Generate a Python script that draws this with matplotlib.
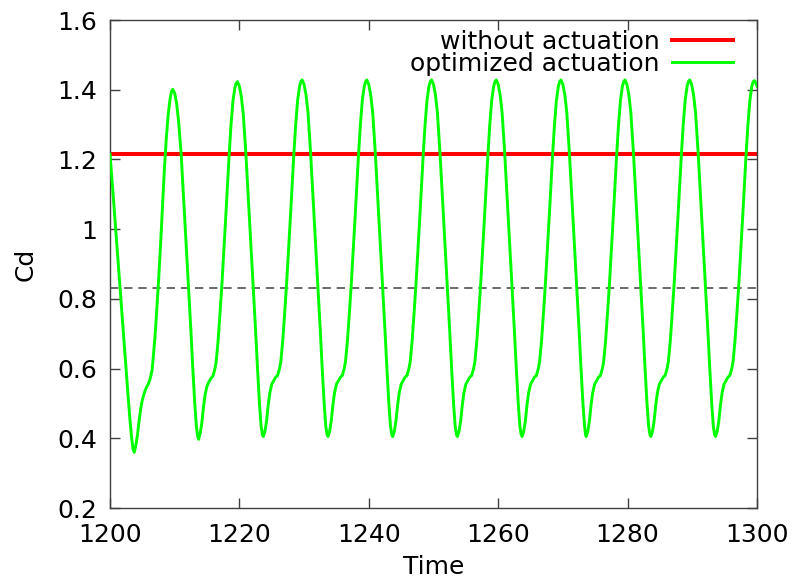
import numpy as np
import matplotlib
matplotlib.use('Agg')
import matplotlib.pyplot as plt

# === data ===
red_t = [1200.0, 1300.0]
red_cd = [1.216, 1.216]

mean_cd = 0.83

green_t = [
    # initial drop
    1200.0, 1200.4, 1200.8, 1201.2, 1201.6, 1202.0, 1202.4, 1202.8, 1203.1, 1203.35, 1203.55,
    # cycle 1
    1203.75, 1204.0, 1204.25, 1204.5, 1204.75, 1205.0, 1205.3, 1205.6, 1205.9, 1206.2, 1206.5, 1206.7,
    1206.95, 1207.2, 1207.5, 1207.8, 1208.1, 1208.4, 1208.7, 1209.0, 1209.3, 1209.5, 1209.7,
    1210.0, 1210.3, 1210.6, 1211.0, 1211.4, 1211.8, 1212.15, 1212.5, 1212.8, 1213.1, 1213.35, 1213.55,
    # cycle 2
    1213.7, 1213.95, 1214.2, 1214.45, 1214.7, 1215.0, 1215.3, 1215.6, 1215.9, 1216.2, 1216.4, 1216.7,
    1217.0, 1217.3, 1217.6, 1217.9, 1218.2, 1218.4, 1218.7, 1219.0, 1219.3, 1219.5, 1219.7,
    1220.0, 1220.3, 1220.6, 1221.0, 1221.4, 1221.8, 1222.15, 1222.5, 1222.8, 1223.1, 1223.35, 1223.55,
    # cycle 3
    1223.7, 1223.95, 1224.2, 1224.45, 1224.7, 1225.0, 1225.3, 1225.6, 1225.9, 1226.2, 1226.4, 1226.7,
    1227.0, 1227.3, 1227.6, 1227.9, 1228.2, 1228.4, 1228.7, 1229.0, 1229.3, 1229.5, 1229.7,
    1230.0, 1230.3, 1230.6, 1231.0, 1231.4, 1231.8, 1232.15, 1232.5, 1232.8, 1233.1, 1233.35, 1233.55,
    # cycle 4
    1233.7, 1233.95, 1234.2, 1234.45, 1234.7, 1235.0, 1235.3, 1235.6, 1235.9, 1236.2, 1236.4, 1236.7,
    1237.0, 1237.3, 1237.6, 1237.9, 1238.2, 1238.4, 1238.7, 1239.0, 1239.3, 1239.5, 1239.7,
    1240.0, 1240.3, 1240.6, 1241.0, 1241.4, 1241.8, 1242.15, 1242.5, 1242.8, 1243.1, 1243.35, 1243.55,
    # cycle 5
    1243.7, 1243.95, 1244.2, 1244.45, 1244.7, 1245.0, 1245.3, 1245.6, 1245.9, 1246.2, 1246.4, 1246.7,
    1247.0, 1247.3, 1247.6, 1247.9, 1248.2, 1248.4, 1248.7, 1249.0, 1249.3, 1249.5, 1249.7,
    1250.0, 1250.3, 1250.6, 1251.0, 1251.4, 1251.8, 1252.15, 1252.5, 1252.8, 1253.1, 1253.35, 1253.55,
    # cycle 6
    1253.7, 1253.95, 1254.2, 1254.45, 1254.7, 1255.0, 1255.3, 1255.6, 1255.9, 1256.2, 1256.4, 1256.7,
    1257.0, 1257.3, 1257.6, 1257.9, 1258.2, 1258.4, 1258.7, 1259.0, 1259.3, 1259.5, 1259.7,
    1260.0, 1260.3, 1260.6, 1261.0, 1261.4, 1261.8, 1262.15, 1262.5, 1262.8, 1263.1, 1263.35, 1263.55,
    # cycle 7
    1263.7, 1263.95, 1264.2, 1264.45, 1264.7, 1265.0, 1265.3, 1265.6, 1265.9, 1266.2, 1266.4, 1266.7,
    1267.0, 1267.3, 1267.6, 1267.9, 1268.2, 1268.4, 1268.7, 1269.0, 1269.3, 1269.5, 1269.7,
    1270.0, 1270.3, 1270.6, 1271.0, 1271.4, 1271.8, 1272.15, 1272.5, 1272.8, 1273.1, 1273.35, 1273.5,
    # cycle 8
    1273.6, 1273.85, 1274.1, 1274.35, 1274.6, 1274.9, 1275.2, 1275.5, 1275.8, 1276.1, 1276.3, 1276.6,
    1276.9, 1277.2, 1277.5, 1277.8, 1278.1, 1278.3, 1278.6, 1278.9, 1279.2, 1279.4, 1279.6,
    1279.9, 1280.2, 1280.5, 1280.9, 1281.3, 1281.7, 1282.05, 1282.4, 1282.7, 1283.0, 1283.25, 1283.45,
    # cycle 9
    1283.6, 1283.85, 1284.1, 1284.35, 1284.6, 1284.9, 1285.2, 1285.5, 1285.8, 1286.1, 1286.3, 1286.6,
    1286.9, 1287.2, 1287.5, 1287.8, 1288.1, 1288.3, 1288.6, 1288.9, 1289.2, 1289.4, 1289.6,
    1289.9, 1290.2, 1290.5, 1290.9, 1291.3, 1291.7, 1292.05, 1292.4, 1292.7, 1293.0, 1293.25, 1293.45,
    # cycle 10 (cut at 1300)
    1293.6, 1293.85, 1294.1, 1294.35, 1294.6, 1294.9, 1295.2, 1295.5, 1295.8, 1296.1, 1296.3, 1296.6,
    1296.9, 1297.2, 1297.5, 1297.8, 1298.1, 1298.3, 1298.6, 1298.9, 1299.2, 1299.4, 1299.6,
    1299.8, 1300.0,
]

green_cd = [
    1.215, 1.12, 1.02, 0.92, 0.82, 0.72, 0.62, 0.52, 0.45, 0.40, 0.37,
    0.36, 0.38, 0.41, 0.45, 0.485, 0.51, 0.53, 0.545, 0.555, 0.57, 0.595, 0.635,
    0.69, 0.76, 0.85, 0.95, 1.06, 1.17, 1.26, 1.33, 1.375, 1.395, 1.401,
    1.39, 1.36, 1.31, 1.215, 1.08, 0.95, 0.83, 0.71, 0.60, 0.50, 0.435, 0.405,
    0.397, 0.415, 0.445, 0.49, 0.525, 0.55, 0.562, 0.572, 0.578, 0.598, 0.618, 0.678,
    0.758, 0.843, 0.938, 1.038, 1.143, 1.208, 1.298, 1.367, 1.406, 1.419, 1.423,
    1.41, 1.38, 1.33, 1.217, 1.083, 0.948, 0.83, 0.71, 0.60, 0.50, 0.435, 0.41,
    0.405, 0.42, 0.45, 0.495, 0.53, 0.555, 0.565, 0.575, 0.58, 0.60, 0.62, 0.68,
    0.76, 0.845, 0.94, 1.04, 1.145, 1.21, 1.30, 1.37, 1.41, 1.423, 1.428,
    1.415, 1.385, 1.335, 1.22, 1.085, 0.95, 0.83, 0.71, 0.60, 0.50, 0.435, 0.41,
    0.405, 0.42, 0.45, 0.495, 0.53, 0.555, 0.565, 0.575, 0.58, 0.60, 0.62, 0.68,
    0.76, 0.845, 0.94, 1.04, 1.145, 1.21, 1.30, 1.37, 1.41, 1.423, 1.428,
    1.415, 1.385, 1.335, 1.22, 1.085, 0.95, 0.83, 0.71, 0.60, 0.50, 0.435, 0.41,
    0.405, 0.42, 0.45, 0.495, 0.53, 0.555, 0.565, 0.575, 0.58, 0.60, 0.62, 0.68,
    0.76, 0.845, 0.94, 1.04, 1.145, 1.21, 1.30, 1.37, 1.41, 1.423, 1.428,
    1.415, 1.385, 1.335, 1.22, 1.085, 0.95, 0.83, 0.71, 0.60, 0.50, 0.435, 0.41,
    0.405, 0.42, 0.45, 0.495, 0.53, 0.555, 0.565, 0.575, 0.58, 0.60, 0.62, 0.68,
    0.76, 0.845, 0.94, 1.04, 1.145, 1.21, 1.30, 1.37, 1.41, 1.423, 1.428,
    1.415, 1.385, 1.335, 1.22, 1.085, 0.95, 0.83, 0.71, 0.60, 0.50, 0.435, 0.41,
    0.405, 0.42, 0.45, 0.495, 0.53, 0.555, 0.565, 0.575, 0.58, 0.60, 0.62, 0.68,
    0.76, 0.845, 0.94, 1.04, 1.145, 1.21, 1.30, 1.37, 1.41, 1.423, 1.428,
    1.415, 1.385, 1.335, 1.22, 1.085, 0.95, 0.83, 0.71, 0.60, 0.50, 0.435, 0.41,
    0.405, 0.42, 0.45, 0.495, 0.53, 0.555, 0.565, 0.575, 0.58, 0.60, 0.62, 0.68,
    0.76, 0.845, 0.94, 1.04, 1.145, 1.21, 1.30, 1.37, 1.41, 1.423, 1.428,
    1.415, 1.385, 1.335, 1.22, 1.085, 0.95, 0.83, 0.71, 0.60, 0.50, 0.435, 0.41,
    0.405, 0.42, 0.45, 0.495, 0.53, 0.555, 0.565, 0.575, 0.58, 0.60, 0.62, 0.68,
    0.76, 0.845, 0.94, 1.04, 1.145, 1.21, 1.30, 1.37, 1.41, 1.423, 1.428,
    1.415, 1.385, 1.335, 1.22, 1.085, 0.95, 0.83, 0.71, 0.60, 0.50, 0.435, 0.41,
    0.405, 0.42, 0.45, 0.495, 0.53, 0.555, 0.565, 0.575, 0.58, 0.60, 0.62, 0.68,
    0.76, 0.845, 0.94, 1.04, 1.145, 1.21, 1.30, 1.37, 1.41, 1.423, 1.426,
    1.42, 1.41,
]

x_ticks = [1200, 1220, 1240, 1260, 1280, 1300]
y_ticks = [0.2, 0.4, 0.6, 0.8, 1.0, 1.2, 1.4, 1.6]
y_tick_labels = ['0.2', '0.4', '0.6', '0.8', '1', '1.2', '1.4', '1.6']

labels = ['without actuation', 'optimized actuation']

plt.rcParams['font.family'] = ['DejaVu Sans']
plt.rcParams['font.size'] = 18

fig = plt.figure(figsize=(7.98, 5.78), dpi=100)
ax = fig.add_axes([110 / 798, 1 - 508 / 578, 647 / 798, 488 / 578])

ax.axhline(mean_cd, color='#505050', lw=1.2, dashes=(5, 3.5), zorder=1)
ax.plot(red_t, red_cd, color='#ff0000', lw=2.9, label=labels[0], zorder=2)
ax.plot(green_t, green_cd, color='#00ff00', lw=2.1, label=labels[1], zorder=3)

ax.set_xlim(1200, 1300)
ax.set_ylim(0.2, 1.6)
ax.set_xticks(x_ticks)
ax.set_yticks(y_ticks)
ax.set_yticklabels(y_tick_labels)
ax.tick_params(direction='in', length=7, width=1.0, color='#404040',
               top=True, right=True, labelsize=18)
ax.tick_params(axis='x', pad=10.5)
ax.tick_params(axis='y', pad=9.5)
for s in ax.spines.values():
    s.set_color('#404040')
    s.set_linewidth(1.0)

ax.set_xlabel('Time', fontsize=18, labelpad=6)
ax.set_ylabel('Cd', fontsize=18, labelpad=14)

ax.legend(loc='upper right', bbox_to_anchor=(0.963, 0.98), frameon=False,
          markerfirst=False, handlelength=2.45, handletextpad=0.48,
          labelspacing=-0.08, borderpad=0, borderaxespad=0, fontsize=18)

fig.savefig('out.png', dpi=100)
